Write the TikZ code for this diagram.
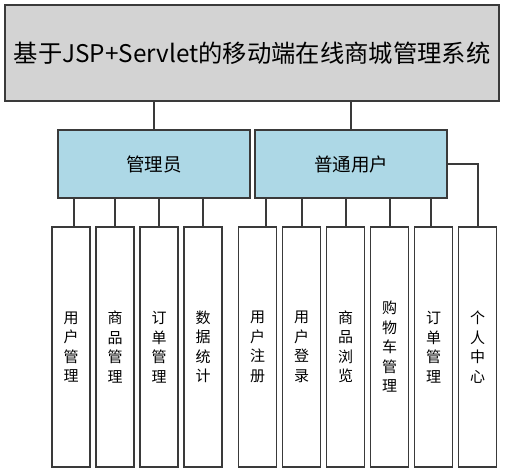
\documentclass[tikz,border=0pt]{standalone}
\usepackage{fontspec}
\setmainfont{Noto Sans CJK SC}
\begin{document}
\begin{tikzpicture}[x=1pt,y=-1pt,
  box/.style={draw=linec,line width=1.4pt,inner sep=0pt,anchor=center},
  topbox/.style={box,fill=topfill,minimum width=494pt,minimum height=96pt,font=\fontsize{24.3}{27}\selectfont},
  midbox/.style={box,fill=midfill,minimum width=192pt,minimum height=68pt,font=\fontsize{18.5}{22}\selectfont},
  leaf/.style={box,fill=white,minimum width=38pt,minimum height=240pt,align=center,font=\fontsize{15}{19.5}\selectfont},
  conn/.style={draw=linec,line width=1.4pt}]
\definecolor{linec}{HTML}{3A3A3A}
\definecolor{topfill}{HTML}{D3D3D3}
\definecolor{midfill}{HTML}{ADD8E6}
\useasboundingbox (0,0) rectangle (505,473);
\node[topbox] (top) at (252,53) {基于JSP+Servlet的移动端在线商城管理系统};
\node[midbox] (admin) at (154,164) {管理员};
\node[midbox] (user) at (351,164) {普通用户};
\node[leaf] (a1) at (71,347) {用\\户\\管\\理};
\node[leaf] (a2) at (115,347) {商\\品\\管\\理};
\node[leaf] (a3) at (159,347) {订\\单\\管\\理};
\node[leaf] (a4) at (203,347) {数\\据\\统\\计};
\node[leaf] (u1) at (257.5,347) {用\\户\\注\\册};
\node[leaf] (u2) at (301.5,347) {用\\户\\登\\录};
\node[leaf] (u3) at (345.5,347) {商\\品\\浏\\览};
\node[leaf] (u4) at (389.5,347) {购\\物\\车\\管\\理};
\node[leaf] (u5) at (433.5,347) {订\\单\\管\\理};
\node[leaf] (u6) at (477.5,347) {个\\人\\中\\心};
\draw[conn] (top.south -| admin.north) -- (admin.north);
\draw[conn] (top.south -| user.north) -- (user.north);
\draw[conn] ([xshift=3pt]a1.north |- admin.south) -- ([xshift=3pt]a1.north);
\draw[conn] (a2.north |- admin.south) -- (a2.north);
\draw[conn] (a3.north |- admin.south) -- (a3.north);
\draw[conn] (a4.north |- admin.south) -- (a4.north);
\draw[conn] ([xshift=8.5pt]u1.north |- user.south) -- ([xshift=8.5pt]u1.north);
\draw[conn] ([xshift=0.5pt]u2.north |- user.south) -- ([xshift=0.5pt]u2.north);
\draw[conn] ([xshift=0.5pt]u3.north |- user.south) -- ([xshift=0.5pt]u3.north);
\draw[conn] ([xshift=0.5pt]u4.north |- user.south) -- ([xshift=0.5pt]u4.north);
\draw[conn] ([xshift=-2.5pt]u5.north |- user.south) -- ([xshift=-2.5pt]u5.north);
\draw[conn] (user.east) -| ([xshift=0.5pt]u6.north);
\end{tikzpicture}
\end{document}
